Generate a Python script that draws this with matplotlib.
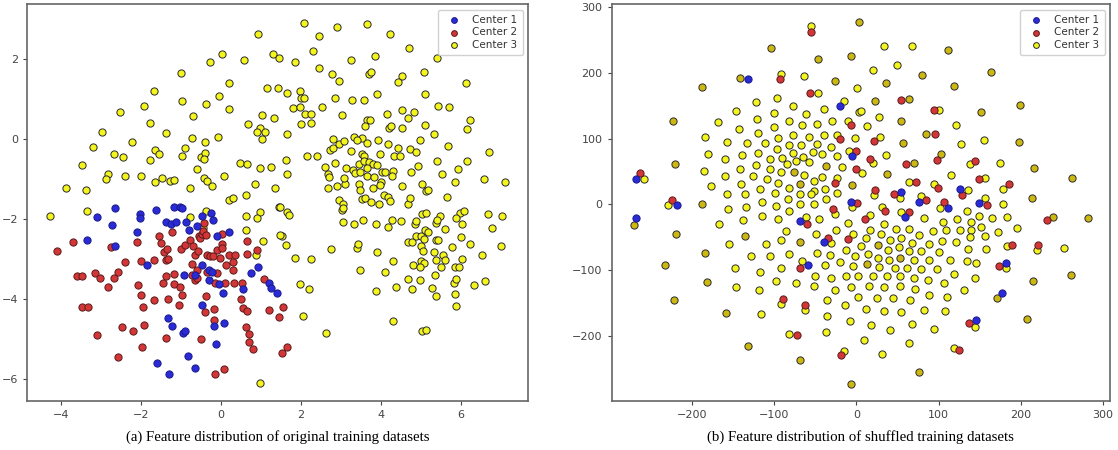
import numpy as np
import matplotlib
matplotlib.use("Agg")
import matplotlib.pyplot as plt

# ---------------- Panel (a): original training datasets ----------------
a_c1 = [(-3.10,-1.94),(-2.66,-1.73),(-2.73,-2.15),(-3.34,-2.51),(-2.65,-2.66),(-2.02,-1.86),(-2.02,-1.96),
        (-2.11,-2.33),(-1.63,-1.76),(-1.38,-2.07),(-1.24,-2.11),(-1.12,-2.06),(-1.18,-1.69),(-1.02,-1.69),
        (-0.98,-1.72),(-0.88,-2.06),(-0.79,-2.26),(-0.48,-1.93),(-0.25,-1.84),(-0.19,-2.01),(-0.59,-2.18),
        (-0.09,-2.42),(0.19,-2.33),(-1.86,-3.15),(-0.93,-3.39),(-0.65,-3.40),(-0.48,-3.15),(-0.29,-3.28),
        (-0.23,-3.32),(-0.30,-3.53),(-0.04,-3.63),(0.06,-3.86),(0.56,-3.76),(0.74,-3.34),(0.92,-3.19),
        (1.21,-3.61),(1.24,-3.72),(1.41,-3.86),(-1.32,-4.48),(-1.23,-4.68),(-0.96,-4.86),(-0.90,-4.79),
        (-0.48,-4.15),(-0.17,-4.68),(0.08,-4.61),(-0.13,-5.13),(-0.82,-5.43),(-1.59,-5.61),(-1.29,-5.88),
        (-0.64,-5.73)]
a_c2 = [(-4.10,-2.79),(-3.69,-2.56),(-2.75,-2.69),(-2.39,-3.06),(-2.11,-2.56),(-1.99,-3.04),(-1.68,-3.02),
        (-1.54,-2.42),(-1.49,-2.59),(-1.43,-2.81),(-1.36,-2.74),(-1.38,-3.02),(-1.32,-2.99),(-1.22,-2.33),
        (-1.01,-2.74),(-0.89,-2.65),(-0.78,-2.52),(-0.69,-2.68),(-0.64,-2.90),(-0.57,-2.79),(-0.56,-2.42),
        (-0.53,-2.48),(-0.48,-2.36),(-0.44,-2.29),(-0.38,-2.40),(-0.43,-2.09),(-0.73,-3.11),(-0.59,-3.26),
        (-0.34,-2.90),(-0.27,-2.91),(-0.21,-2.93),(-0.09,-2.76),(0.02,-2.61),(0.02,-2.71),(0.03,-2.36),
        (-0.03,-2.98),(0.19,-2.90),(0.34,-2.90),(0.29,-3.08),(0.12,-3.15),(0.31,-3.26),(0.64,-2.54),
        (0.64,-2.86),(0.91,-2.76),(-0.64,-3.53),(-0.59,-3.47),(-0.73,-3.39),(-0.36,-3.32),(-0.11,-3.34),
        (-0.38,-3.93),(-0.15,-3.61),(0.10,-3.61),(0.33,-3.61),(0.53,-3.61),(0.50,-4.00),(0.56,-4.23),
        (0.66,-4.29),(-0.17,-4.24),(-0.40,-4.33),(-0.18,-4.53),(1.08,-3.49),(1.21,-4.28),(-1.17,-3.37),
        (-1.38,-3.42),(-1.46,-3.61),(-1.18,-3.62),(-1.03,-3.71),(-0.98,-3.91),(-1.33,-4.01),(-1.04,-4.14),
        (-1.67,-4.03),(-2.08,-3.65),(-1.99,-3.90),(-1.96,-4.19),(-1.93,-4.65),(-2.19,-4.80),(-2.48,-4.69),
        (-1.98,-5.19),(-2.58,-5.46),(-3.11,-4.89),(-3.48,-4.19),(-3.33,-4.19),(-3.59,-3.43),(-3.48,-3.43),
        (-3.16,-3.36),(-3.03,-3.48),(-2.68,-3.48),(-2.58,-3.32),(-2.83,-3.69),(-1.38,-4.98),(-0.51,-5.01),
        (-0.15,-5.87),(0.08,-5.74),(0.62,-4.71),(0.71,-4.88),(0.71,-5.07),(0.81,-5.24),(1.54,-4.21),
        (1.45,-4.44),(1.66,-5.21),(1.53,-5.36)]
a_c3 = [(0.93,2.63),(0.03,2.13),(1.30,2.14),(1.44,2.02),(-0.28,1.93),(0.58,1.99),(-1.00,1.66),(-1.68,1.21),
        (0.19,1.41),(1.16,1.29),(1.43,1.28),(-0.06,1.07),(-0.97,0.95),(-0.38,0.88),(-1.93,0.84),(-2.53,0.67),
        (0.19,0.75),(-0.69,0.58),(1.03,0.61),(1.32,0.54),(-1.78,0.41),(0.68,0.38),(-2.98,0.18),(-1.38,0.16),
        (0.98,0.29),(0.91,0.18),(1.11,0.19),(1.03,0.01),(-0.07,0.06),(-0.73,0.04),(-3.21,-0.19),(-2.23,-0.08),
        (-0.41,-0.08),(-0.89,-0.23),(-1.66,-0.26),(-1.54,-0.38),(-2.67,-0.38),(-2.45,-0.45),(-0.98,-0.43),
        (-0.51,-0.44),(-0.39,-0.35),(-0.43,-0.49),(-1.78,-0.53),(-3.48,-0.64),(0.48,-0.59),(0.64,-0.63),
        (0.98,-0.72),(1.25,-0.69),(-0.61,-0.75),(-2.83,-0.87),(-2.39,-0.91),(-2.00,-0.91),(-2.87,-0.99),
        (0.07,-0.91),(-0.42,-0.96),(-0.35,-1.05),(-1.48,-0.98),(-1.64,-1.06),(-1.28,-1.05),(-1.18,-1.02),
        (-0.23,-1.16),(0.84,-1.12),(-3.88,-1.21),(-3.38,-1.27),(-0.78,-1.21),(1.36,-1.23),(0.19,-1.51),
        (0.31,-1.46),(0.63,-1.40),(-3.34,-1.79),(1.44,-1.69),(0.98,-1.83),(-0.38,-1.80),(0.62,-1.92),
        (-4.28,-1.93),(-0.78,-1.94),(0.91,-1.98),
        (2.07,2.92),(2.91,2.81),(3.64,2.89),(2.45,2.58),(4.23,2.63),(4.71,2.28),(1.85,1.94),(2.31,2.20),
        (3.86,2.08),(3.24,1.98),(5.41,2.03),(2.44,1.77),(2.78,1.63),(2.94,1.45),(3.69,1.63),(3.76,1.68),
        (4.54,1.59),(4.44,1.42),(5.08,1.68),(6.13,1.41),(1.64,1.16),(1.98,1.20),(2.01,1.03),(2.07,1.02),
        (2.86,1.02),(3.28,0.98),(3.58,0.98),(3.91,1.12),(5.11,1.14),(1.81,0.78),(1.98,0.80),(2.53,0.80),
        (2.10,0.64),(2.24,0.62),(2.24,0.41),(1.99,0.38),(3.03,0.61),(4.15,0.63),(4.52,0.74),(4.82,0.69),
        (4.68,0.53),(5.44,0.83),(5.70,0.80),(6.22,0.48),(6.15,0.26),(3.64,0.48),(3.73,0.48),(3.59,0.33),
        (4.20,0.27),(4.25,0.33),(4.53,0.29),(5.11,0.35),(1.65,0.13),(5.34,0.12),(2.81,0.01),(2.73,-0.28),
        (2.79,-0.21),(2.95,-0.13),(3.08,-0.05),(3.32,0.06),(3.53,0.04),(3.39,-0.03),(3.66,-0.09),(3.92,-0.03),
        (4.18,-0.11),(4.42,-0.23),(4.74,-0.25),(4.89,-0.32),(4.99,-0.01),(5.68,-0.18),(6.71,-0.33),
        (3.25,-0.29),(3.53,-0.36),(3.58,-0.41),(3.98,-0.36),(4.33,-0.42),(4.49,-0.42),(2.16,-0.41),
        (2.39,-0.43),(1.62,-0.52),(1.66,-0.86),(2.86,-0.59),(2.61,-0.69),(3.12,-0.72),(3.29,-0.78),
        (3.45,-0.61),(3.57,-0.54),(3.69,-0.58),(3.81,-0.61),(3.91,-0.65),(3.66,-0.71),(3.36,-0.84),
        (3.48,-0.83),(3.64,-0.93),(3.83,-0.95),(4.03,-0.83),(4.11,-0.82),(4.01,-1.07),(3.97,-1.15),
        (4.31,-0.79),(4.28,-0.93),(4.75,-0.83),(4.94,-0.68),(5.41,-0.54),(5.52,-0.86),(5.93,-0.75),
        (6.16,-0.55),(5.86,-1.07),(6.59,-1.00),(7.11,-1.08),(2.67,-0.88),(2.70,-0.94),(2.91,-1.16),
        (3.11,-1.13),(3.08,-0.96),(3.45,-1.13),(3.48,-1.26),(3.79,-1.22),(4.52,-1.16),(5.02,-1.13),
        (5.13,-1.30),(5.17,-1.28),(5.66,-1.45),(2.67,-1.22),(2.96,-1.51),(3.06,-1.61),(3.03,-1.78),
        (3.04,-1.71),(3.53,-1.49),(3.60,-1.46),(3.76,-1.56),(3.96,-1.63),(4.08,-1.40),(4.18,-1.44),
        (4.24,-1.55),(4.67,-1.63),(4.72,-1.48),(1.48,-1.70),(1.66,-1.83),(1.71,-1.90),(5.04,-1.87),
        (5.13,-1.84),(5.47,-1.93),(5.98,-1.84),(6.09,-1.80),(6.67,-1.86),(7.02,-1.93),
        (3.04,-2.07),(3.33,-2.13),(3.56,-2.03),(3.88,-2.13),(4.18,-2.19),(4.29,-2.01),(4.51,-2.04),
        (4.85,-2.11),(4.89,-2.04),(5.39,-2.09),(5.41,-2.03),(5.60,-2.24),(5.89,-1.97),(6.04,-2.13),
        (6.78,-2.23),(7.00,-2.67),(2.76,-2.74),(1.52,-2.41),(1.62,-2.65),(1.06,-2.54),(1.84,-2.98),
        (2.24,-2.99),(1.98,-3.63),(2.21,-3.74),(2.06,-4.42),(2.63,-4.86),(0.98,-6.11),(3.39,-2.73),
        (3.43,-2.63),(3.48,-3.26),(3.91,-2.83),(3.88,-3.79),(4.11,-3.33),(4.31,-3.05),(4.39,-3.71),
        (4.30,-4.54),(4.69,-2.57),(4.78,-2.57),(4.89,-2.43),(5.00,-2.43),(5.09,-2.50),(5.10,-2.28),
        (5.18,-2.33),(5.00,-2.68),(5.06,-2.80),(4.81,-3.15),(5.00,-3.05),(5.09,-3.09),(4.98,-3.20),
        (4.68,-3.49),(4.98,-3.53),(4.78,-3.76),(5.29,-3.73),(5.37,-3.92),(5.35,-3.40),(5.38,-3.01),
        (5.34,-2.82),(5.39,-2.51),(5.43,-2.53),(5.56,-2.90),(5.60,-3.01),(5.50,-3.20),(5.79,-2.70),
        (6.01,-2.44),(6.23,-2.62),(6.53,-2.90),(5.86,-3.19),(5.96,-3.19),(6.03,-2.99),(5.84,-3.59),
        (5.89,-3.51),(5.86,-3.88),(5.89,-4.18),(6.34,-3.65),(6.61,-3.55),(5.03,-4.79),(5.13,-4.77),
        (-0.44,-2.21),(0.62,-2.26),(0.88,-2.90),(1.48,-2.39)]

# ---------------- Panel (b): shuffled training datasets ----------------
b_c1 = [(-132.5,190.4),(-19.9,149.2),(-4.9,73.6),(-269.1,39.1),(-219.1,-1.5),(-7.3,4.1),(-269.1,-20.8),
        (-69.1,-25.4),(-39.8,-57.9),(-59.3,-92.4),(54.7,18.8),(76.5,3.0),(126.7,22.8),(111.7,-5.1),
        (149.8,2.5),(59.1,-18.8),(182.2,-88.8),(177.7,-135.5),(145.7,-176.1)]
b_c2 = [(-55.3,261.4),(-93.5,190.4),(-56.9,169.5),(-7.3,119.8),(-20.3,99.0),(0.0,80.7),(-0.4,53.3),
        (-263.8,47.2),(-26.0,33.0),(-224.4,6.6),(0.8,2.5),(-28.9,-7.6),(-60.2,-29.4),(-34.6,-51.3),
        (-9.8,-52.3),(-68.3,-96.4),(-89.8,-144.7),(-63.0,-153.8),(-72.8,-198.0),(-19.5,-228.4),
        (54.7,158.9),(93.9,143.7),(21.0,95.9),(95.1,106.6),(17.0,68.5),(60.3,61.9),(98.2,67.0),
        (144.9,65.5),(72.5,34.5),(99.2,25.4),(149.8,38.6),(185.8,31.0),(22.3,21.8),(46.2,15.7),
        (85.0,6.6),(129.1,14.2),(34.8,-9.6),(63.9,-11.2),(106.5,3.0),(158.7,-0.5),(232.4,-23.9),
        (10.5,-21.8),(189.9,-61.4),(221.1,-61.4),(174.1,-93.9),(137.7,-180.7),(125.5,-221.3)]
b_c3 = [(-55.3,271.6),(-91.5,197.5),(-64.6,194.4),(-47.2,169.5),(0.4,176.6),(-96.7,161.9),(-122.4,154.8),
        (-78.0,148.7),(-15.4,157.4),(-146.3,141.1),(-100.8,138.6),(-61.0,138.0),(-40.2,144.2),(3.3,140.6),
        (-168.3,125.4),(-121.5,130.0),(-100.8,117.8),(-82.9,126.4),(-65.9,120.3),(-47.6,121.8),(-29.7,126.9),
        (-9.8,126.9),(-143.1,115.2),(-184.6,102.5),(-158.1,94.4),(-119.9,109.1),(-95.1,101.5),(-78.0,106.1),
        (-58.5,103.0),(-40.2,105.6),(-23.2,106.1),(-2.4,101.0),(-133.7,93.9),(-111.4,92.9),(-82.9,89.8),
        (-67.5,89.8),(-47.6,91.9),(-31.3,87.3),(-96.7,83.8),(-181.3,77.2),(-139.4,75.1),(-119.5,78.2),
        (-77.2,78.2),(-53.3,80.2),(-41.9,76.1),(-24.0,74.1),(-8.9,81.7),(-105.3,68.5),(-90.7,71.1),
        (-74.0,66.0),(-65.0,71.6),(-58.5,64.0),(-160.6,68.5),(-84.6,60.9),(-17.5,56.3),(-185.4,51.3),
        (-141.9,53.8),(-122.4,59.9),(-104.9,53.8),(-91.9,48.7),(-63.4,44.2),(-52.4,35.5),(-41.5,41.1),
        (-23.2,39.6),(-259.3,39.1),(-160.6,42.6),(-126.0,43.1),(-109.3,38.6),(-177.6,27.9),(-140.7,31.5),
        (-117.9,22.8),(-96.3,32.0),(-52.4,19.8),(-37.8,22.8),(-23.2,17.8),(-157.3,15.7),(-135.4,15.2),
        (-99.2,16.8),(-82.1,24.4),(-68.3,15.7),(-55.3,16.2),(-37.4,8.1),(-84.1,8.6),(-229.3,-1.5),
        (-115.4,4.1),(-98.0,-2.0),(-69.1,1.0),(-52.0,0.0),(-4.9,-4.1),(-156.9,-7.1),(-134.6,-4.1),
        (-81.7,-10.7),(-26.0,-14.2),
        (-167.9,-30.5),(-137.8,-23.4),(-115.4,-17.8),(-95.1,-22.3),(-61.0,-19.3),(-46.3,-22.8),(-9.8,-28.4),
        (-155.7,-60.9),(-110.6,-60.9),(-85.4,-40.6),(-91.9,-53.8),(-48.8,-45.7),(-30.9,-58.9),(-25.2,-38.6),
        (-4.1,-45.7),(-128.9,-78.2),(-105.7,-78.2),(-82.1,-76.1),(-65.9,-86.8),(-48.0,-74.1),(-32.9,-77.2),
        (-20.3,-88.3),(-13.0,-70.1),(-4.1,-93.4),(-1.6,-78.2),(-147.6,-97.5),(-117.5,-102.5),(-91.9,-97.5),
        (-74.0,-119.8),(-98.4,-116.8),(-52.0,-124.9),(-50.0,-108.6),(-39.0,-92.4),(-30.9,-111.7),
        (-25.6,-129.9),(-13.4,-108.6),(-7.3,-125.9),(2.4,-109.6),(-146.3,-125.4),(-119.1,-129.9),
        (-91.5,-152.3),(-62.2,-161.4),(-35.4,-145.2),(-35.4,-170.1),(-14.2,-153.8),(2.4,-141.1),(-8.1,-177.7),
        (-116.3,-167.5),(-82.1,-197.0),(-37.0,-193.9),(-15.4,-222.3),
        (33.6,240.1),(67.6,241.1),(49.4,212.2),(19.8,204.6),(100.8,143.7),(5.7,141.6),(27.9,132.0),
        (13.0,118.3),(121.0,120.3),(28.3,102.0),(127.9,91.9),(155.5,97.5),(35.6,75.6),(20.2,62.4),
        (7.3,48.2),(115.0,44.7),(138.5,61.4),(174.9,62.9),(64.4,34.5),(94.7,31.0),(157.1,40.1),
        (178.9,23.9),(21.0,14.7),(53.4,9.6),(78.1,12.7),(135.6,21.3),(30.8,-3.6),(54.7,-11.2),
        (102.0,-6.1),(134.4,-9.6),(156.7,9.1),(178.1,0.5),(16.2,-16.2),(81.8,-21.3),(123.1,-21.8),
        (149.8,-17.8),(164.8,-21.3),(183.0,-18.8),
        (172.9,-42.1),(196.0,-35.5),(33.2,-29.4),(47.8,-37.6),(64.4,-37.1),(76.1,-46.7),(92.7,-41.1),
        (104.9,-26.9),(108.9,-39.6),(126.3,-39.6),(140.1,-26.4),(139.3,-38.6),(152.2,-34.5),(157.1,-48.7),
        (138.5,-49.7),(121.5,-57.4),(135.6,-67.5),(157.5,-68.5),(183.0,-63.5),(219.8,-69.0),(253.0,-67.0),
        (11.0,-50.8),(17.0,-38.6),(5.7,-63.5),(14.6,-75.1),(30.0,-45.7),(40.9,-54.8),(38.5,-70.1),
        (26.7,-81.2),(51.8,-65.0),(54.3,-51.8),(63.6,-71.6),(67.2,-58.9),(78.5,-71.6),(88.3,-59.9),
        (100.8,-73.1),(104.5,-55.8),(114.2,-84.3),(134.4,-86.8),(145.7,-89.3),(182.2,-97.5),(27.1,-95.4),
        (39.3,-85.3),(46.6,-96.4),(61.5,-96.9),(78.1,-98.0),(69.6,-84.3),(88.3,-84.3),(98.4,-99.0),
        (119.4,-105.6),(144.5,-112.2),(19.8,-108.6),(37.2,-109.6),(53.4,-109.1),(69.6,-111.7),
        (87.1,-114.7),(106.1,-119.8),(131.2,-131.0),(15.4,-124.4),(33.6,-125.9),(52.6,-124.9),
        (70.9,-128.4),(87.8,-138.6),(110.1,-141.1),(24.7,-142.6),(44.5,-142.6),(64.8,-146.2),(12.1,-159.9),
        (33.2,-162.4),(54.3,-164.0),(82.6,-160.9),(107.3,-162.4),(17.4,-183.2),(41.3,-190.4),(67.6,-181.7),
        (93.9,-188.8),(144.9,-186.3),(9.7,-206.1),(64.0,-211.2),(31.6,-226.9),(118.6,-218.3)]
# Center-3 points that overlap (darker, stacked markers)
b_c3_stacked = [(3.3,277.7),(-104.0,237.0),(-47.2,220.8),(-7.3,225.9),(-141.9,191.4),(-26.0,187.3),
        (-188.2,177.7),(-223.2,126.4),(-221.5,60.9),(-36.6,58.9),(-76.4,49.7),(-4.9,29.4),(-69.1,31.5),
        (-188.6,0.0),(-271.5,-32.0),(-219.9,-45.7),(-135.4,-48.7),(-69.1,-56.9),(-185.0,-74.6),
        (-233.7,-91.9),(-181.7,-117.8),(-222.8,-146.2),(-159.3,-164.5),(-132.1,-215.7),(-68.3,-236.5),
        (-6.1,-273.1),(112.1,235.0),(79.4,197.0),(164.0,201.0),(35.6,184.3),(119.4,179.2),(22.7,157.4),
        (64.0,159.9),(198.8,150.8),(53.8,126.9),(151.4,140.6),(57.1,93.9),(85.0,106.6),(198.0,95.4),
        (69.9,63.5),(102.8,76.1),(37.2,45.7),(216.6,55.8),(263.2,39.6),(213.4,10.2),(239.7,-18.8),
        (282.2,-21.3),(26.7,-62.4),(52.6,-81.2),(12.9,-91.4),(215.4,-117.3),(261.9,-108.1),
        (171.3,-142.1),(207.7,-175.1),(76.5,-255.3)]

labels = ["Center 1", "Center 2", "Center 3"]
captions = ["(a) Feature distribution of original training datasets",
            "(b) Feature distribution of shuffled training datasets"]

BLUE, BLUE_E = "#2a2ad6", "#1a1a8a"
RED, RED_E = "#d23636", "#5a1a1a"
YEL, YEL_E = "#f5f51e", "#2a2a2a"
GOLD = "#cdb812"

fig = plt.figure(figsize=(11.18, 4.5), dpi=100)
ax1 = fig.add_axes([0.0242, 0.1089, 0.4481, 0.8815])
ax2 = fig.add_axes([0.5471, 0.1089, 0.4457, 0.8815])

def sc(ax, pts, color, edge, label=None, z=2):
    arr = np.array(pts)
    return ax.scatter(arr[:, 0], arr[:, 1], s=27, c=color, edgecolors=edge,
                      linewidths=0.7, label=label, zorder=z)

# panel a
sc(ax1, a_c3, YEL, YEL_E, labels[2], 2)
sc(ax1, a_c2, RED, RED_E, labels[1], 3)
sc(ax1, a_c1, BLUE, BLUE_E, labels[0], 4)
ax1.set_xlim(-4.85, 7.68)
ax1.set_ylim(-6.55, 3.375)
ax1.set_xticks([-4, -2, 0, 2, 4, 6])
ax1.set_yticks([-6, -4, -2, 0, 2])

# panel b
sc(ax2, b_c3, YEL, YEL_E, labels[2], 2)
sc(ax2, b_c3_stacked, GOLD, YEL_E, None, 2)
sc(ax2, b_c2, RED, RED_E, labels[1], 3)
sc(ax2, b_c1, BLUE, BLUE_E, labels[0], 4)
ax2.set_xlim(-298.5, 309)
ax2.set_ylim(-299, 304)
ax2.set_xticks([-200, -100, 0, 100, 200, 300])
ax2.set_yticks([-200, -100, 0, 100, 200, 300])

for ax in (ax1, ax2):
    for sp in ax.spines.values():
        sp.set_color("#666666")
        sp.set_linewidth(1.2)
    ax.tick_params(labelsize=8, colors="#444444", length=3)
    h, l = ax.get_legend_handles_labels()
    order = [l.index(x) for x in labels]
    leg = ax.legend([h[i] for i in order], [l[i] for i in order], loc="upper right",
                    fontsize=7.5, markerscale=0.8, handletextpad=0.8, borderpad=0.5,
                    labelspacing=0.25, framealpha=0.9)
    for t in leg.get_texts():
        t.set_color("#333333")

fig.text(0.0242 + 0.4481 / 2, 0.028, captions[0], ha="center", va="center",
         fontsize=10.7, family="Liberation Serif")
fig.text(0.5471 + 0.4457 / 2, 0.028, captions[1], ha="center", va="center",
         fontsize=10.7, family="Liberation Serif")

fig.savefig("out.png", dpi=100)
